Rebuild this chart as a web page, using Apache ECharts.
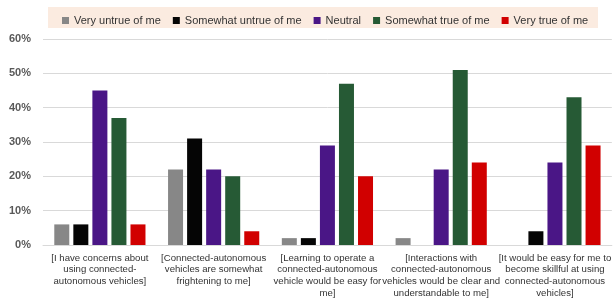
<!DOCTYPE html>
<html>
<head>
<meta charset="utf-8">
<script src="https://cdn.jsdelivr.net/npm/echarts@6/dist/echarts.min.js"></script>
<style>
html, body { margin: 0; padding: 0; background: #fff; }
#chart { width: 614px; height: 299px; }
</style>
</head>
<body>
<div id="chart"></div>
<script>
var categories = [
    '[I have concerns about\nusing connected-\nautonomous vehicles]',
    '[Connected-autonomous\nvehicles are somewhat\nfrightening to me]',
    '[Learning to operate a\nconnected-autonomous\nvehicle would be easy for\nme]',
    '[Interactions with\nconnected-autonomous\nvehicles would be clear and\nunderstandable to me]',
    '[It would be easy for me to\nbecome skillful at using\nconnected-autonomous\nvehicles]'
];
var seriesNames = ['Very untrue of me', 'Somewhat untrue of me', 'Neutral', 'Somewhat true of me', 'Very true of me'];
var veryUntrue = [6, 22, 2, 2, 0];
var somewhatUntrue = [6, 31, 2, 0, 4];
var neutral = [45, 22, 29, 22, 24];
var somewhatTrue = [37, 20, 47, 51, 43];
var veryTrue = [6, 4, 20, 24, 29];
var colors = ['#878787', '#050505', '#4a1686', '#265a35', '#d10000'];

var values = [veryUntrue, somewhatUntrue, neutral, somewhatTrue, veryTrue];

var myChart = echarts.init(document.getElementById('chart'));

var series = [];
seriesNames.forEach(function(name, i){
    series.push({
        name: name,
        type: 'bar',
        data: values[i],
        barWidth: 15,
        barGap: '27%',
        itemStyle: {color: colors[i]}
    });
});

var option = {
    animation: false,
    color: colors,
    graphic: [{
        type: 'rect',
        shape: {x: 48, y: 7, width: 550, height: 21},
        style: {fill: '#fbebe0'},
        z: -1
    }],
    legend: {
        left: 57,
        top: 10,
        itemWidth: 7,
        itemHeight: 7,
        itemGap: 12,
        icon: 'rect',
        textStyle: {fontFamily: 'Liberation Sans', fontSize: 11, color: '#333'},
        data: seriesNames
    },
    grid: {left: 43, right: 0, top: 39, bottom: 54},
    xAxis: {
        type: 'category',
        data: categories,
        axisTick: {show: false},
        axisLine: {lineStyle: {color: '#d9d9d9'}},
        axisLabel: {
            interval: 0,
            margin: 7,
            fontFamily: 'Liberation Sans',
            fontSize: 9.6,
            lineHeight: 11.7,
            color: '#333'
        }
    },
    yAxis: {
        type: 'value',
        min: 0,
        max: 60,
        interval: 10,
        axisLine: {show: false},
        axisTick: {show: false},
        splitLine: {lineStyle: {color: '#d9d9d9'}},
        axisLabel: {
            formatter: '{value}%',
            margin: 12,
            fontFamily: 'Liberation Sans',
            fontSize: 11,
            fontWeight: 'bold',
            color: '#595959'
        }
    },
    series: series
};

myChart.setOption(option);
</script>
</body>
</html>
